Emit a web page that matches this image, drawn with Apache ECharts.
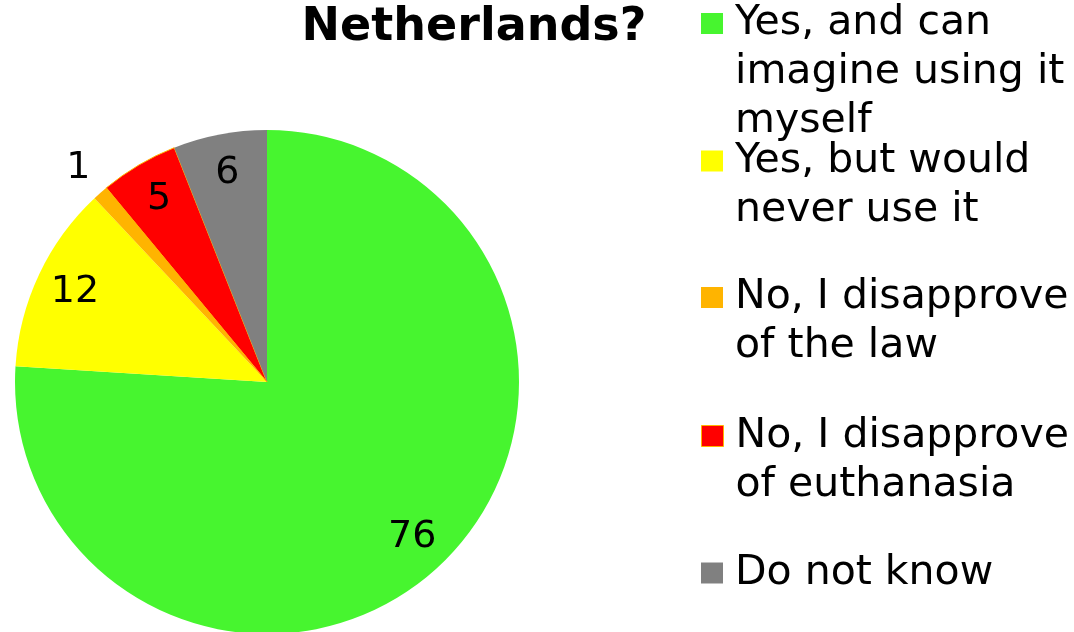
<!DOCTYPE html>
<html><head><meta charset="utf-8">
<script src="https://cdn.jsdelivr.net/npm/echarts@6/dist/echarts.min.js"></script>
<style>html,body{margin:0;padding:0;background:#fff}#c{width:1074px;height:632px}</style>
</head><body><div id="c"></div>
<script>
const categories = ['Yes, and can\nimagine using it\nmyself', 'Yes, but would\nnever use it', 'No, I disapprove\nof the law', 'No, I disapprove\nof euthanasia', 'Do not know'];
const values = [76, 12, 1, 5, 6];
const colors = ['#47F52F', '#FFFF00', '#FFB400', '#FF0000', '#808080'];
const titleText = 'Netherlands?';

const FONT = 'DejaVu Sans';
const CX = 267, CY = 382, R = 252;
const LH = 49;
const legendCenters = [23.5, 161, 297.5, 436, 573];

const mainData = categories.map((n, i) => ({
  name: n, value: values[i],
  itemStyle: i === 3 ? {color: colors[i], borderColor: '#FFB400', borderWidth: 1} : {color: colors[i]}
}));
const insideData = categories.map((n, i) => ({
  name: n, value: values[i],
  label: {show: i !== 2}
}));
const outsideData = categories.map((n, i) => ({
  name: n, value: values[i],
  label: {show: i === 2}
}));

const legends = categories.map((n, i) => {
  const lines = n.split('\n').length;
  const box = (2 * lines - 1) * LH;
  return {
    data: [{name: n, itemStyle: i === 3 ? {borderColor: '#FFB400', borderWidth: 1} : undefined}],
    formatter: name => '\n'.repeat(lines - 1) + name,
    orient: 'vertical',
    left: 701,
    top: legendCenters[i] - box / 2,
    padding: 0,
    itemWidth: 22, itemHeight: 21,
    itemGap: 0,
    icon: 'rect',
    selectedMode: false,
    textStyle: {fontFamily: FONT, fontSize: 41, color: '#000', lineHeight: LH, padding: [0, 0, 0, 7]}
  };
});

const transparent = {color: 'rgba(0,0,0,0)'};
const labelStyle = {fontFamily: FONT, fontSize: 38, color: '#000', formatter: '{c}'};

const chart = echarts.init(document.getElementById('c'), null, {renderer: 'canvas'});
chart.setOption({
  animation: false,
  backgroundColor: '#fff',
  title: {
    text: titleText, left: 469, top: 0, textAlign: 'center',
    textStyle: {fontFamily: FONT, fontWeight: 'bold', fontSize: 46, color: '#000'}
  },
  legend: legends,
  series: [
    {
      type: 'pie', center: [CX, CY], radius: [0, R], startAngle: 90, clockwise: true,
      label: {show: false}, labelLine: {show: false}, silent: true,
      data: mainData
    },
    {
      type: 'pie', center: [CX, CY], radius: [R * 0.66, R], startAngle: 90, clockwise: true,
      itemStyle: transparent, silent: true, avoidLabelOverlap: false, legendHoverLink: false,
      label: Object.assign({position: 'inside'}, labelStyle), labelLine: {show: false},
      data: insideData
    },
    {
      type: 'pie', center: [CX, CY], radius: [R * 1.02, R * 1.22], startAngle: 90, clockwise: true,
      itemStyle: transparent, silent: true, avoidLabelOverlap: false, legendHoverLink: false,
      label: Object.assign({position: 'inside'}, labelStyle), labelLine: {show: false},
      data: outsideData
    }
  ]
});
</script></body></html>
